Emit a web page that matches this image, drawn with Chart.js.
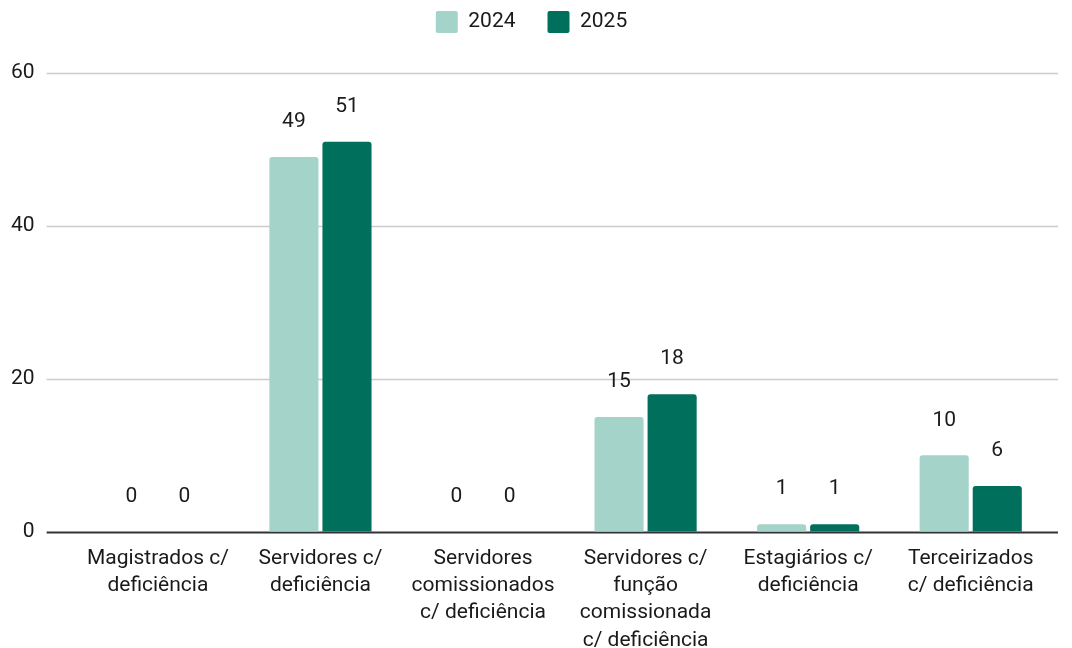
<!DOCTYPE html>
<html>
<head>
<meta charset="utf-8">
<script src="https://cdn.jsdelivr.net/npm/chart.js@4"></script>
<style>
  html, body { margin: 0; padding: 0; background: #fff; }
  #wrap { width: 1072px; height: 648px; }
</style>
</head>
<body>
<div id="wrap"><canvas id="chart" width="1072" height="648"></canvas></div>
<script>
const categories = [
  ["Magistrados c/", "deficiência"],
  ["Servidores c/", "deficiência"],
  ["Servidores", "comissionados", "c/ deficiência"],
  ["Servidores c/", "função", "comissionada", "c/ deficiência"],
  ["Estagiários c/", "deficiência"],
  ["Terceirizados", "c/ deficiência"],
];
const values2024 = [0, 49, 0, 15, 1, 10];
const values2025 = [0, 51, 0, 18, 1, 6];
const yTicks = [0, 20, 40, 60];

// draws the value above each bar
const valueLabels = {
  id: "valueLabels",
  afterDatasetsDraw(chart) {
    const ctx = chart.ctx;
    ctx.save();
    ctx.font = "21px Roboto";
    ctx.fillStyle = "#1a1a1a";
    ctx.textAlign = "center";
    ctx.textBaseline = "middle";
    chart.data.datasets.forEach((ds, i) => {
      const meta = chart.getDatasetMeta(i);
      meta.data.forEach((bar, j) => {
        ctx.fillText(String(ds.data[j]), bar.x, bar.y - 35);
      });
    });
    ctx.restore();
  },
};

// horizontal grid lines run wider than the category area (sheets style)
const wideGrid = {
  id: "wideGrid",
  beforeDatasetsDraw(chart) {
    const ctx = chart.ctx;
    const y = chart.scales.y;
    const area = chart.chartArea;
    ctx.save();
    yTicks.forEach((v) => {
      const py = Math.round(y.getPixelForValue(v)) + 0.5;
      ctx.beginPath();
      ctx.moveTo(area.left - 30, py);
      ctx.lineTo(area.right + 6, py);
      ctx.strokeStyle = v === 0 ? "#333" : "#cccccc";
      ctx.lineWidth = v === 0 ? 2 : 1.5;
      ctx.stroke();
    });
    ctx.restore();
  },
};

// extra room under the legend, and keep it centred on the page
const legendSpace = {
  id: "legendSpace",
  beforeInit(chart) {
    const legend = chart.legend;
    const fit = legend.fit;
    legend.fit = function () {
      fit.call(this);
      this.height = 94;
    };
    const draw = legend.draw;
    legend.draw = function () {
      const ctx = this.ctx;
      ctx.save();
      ctx.translate(21, 0);
      draw.call(this);
      ctx.restore();
    };
  },
};

const config = {
  type: "bar",
  data: {
    labels: categories,
    datasets: [
      {
        label: "2024",
        data: values2024,
        backgroundColor: "#a4d3c9",
        borderRadius: 3,
        borderSkipped: "bottom",
        categoryPercentage: 0.653,
        barPercentage: 0.925,
      },
      {
        label: "2025",
        data: values2025,
        backgroundColor: "#00705d",
        borderRadius: 3,
        borderSkipped: "bottom",
        categoryPercentage: 0.653,
        barPercentage: 0.925,
      },
    ],
  },
  options: {
    responsive: false,
    animation: false,
    layout: { padding: { top: -21, right: 20, left: -31, bottom: -11 } },
    plugins: {
      legend: {
        position: "top",
        labels: {
          font: { family: "Roboto", size: 21 },
          color: "#1a1a1a",
          boxWidth: 22,
          boxHeight: 22,
          useBorderRadius: true,
          borderRadius: 2,
          padding: 32,
        },
      },
      tooltip: { enabled: false },
    },
    scales: {
      x: {
        grid: { display: false },
        border: { display: false },
        ticks: {
          font: { family: "Roboto", size: 21, lineHeight: 1.3 },
          color: "#1a1a1a",
          maxRotation: 0,
          autoSkip: false,
          padding: 5,
        },
      },
      y: {
        min: 0,
        max: 60,
        afterBuildTicks: (axis) => {
          axis.ticks = yTicks.map((v) => ({ value: v }));
        },
        grid: { display: false, drawTicks: false },
        border: { display: false },
        ticks: {
          font: { family: "Roboto", size: 21 },
          color: "#1a1a1a",
          padding: 42,
        },
      },
    },
  },
  plugins: [valueLabels, wideGrid, legendSpace],
};

new Chart(document.getElementById("chart"), config);
</script>
</body>
</html>
